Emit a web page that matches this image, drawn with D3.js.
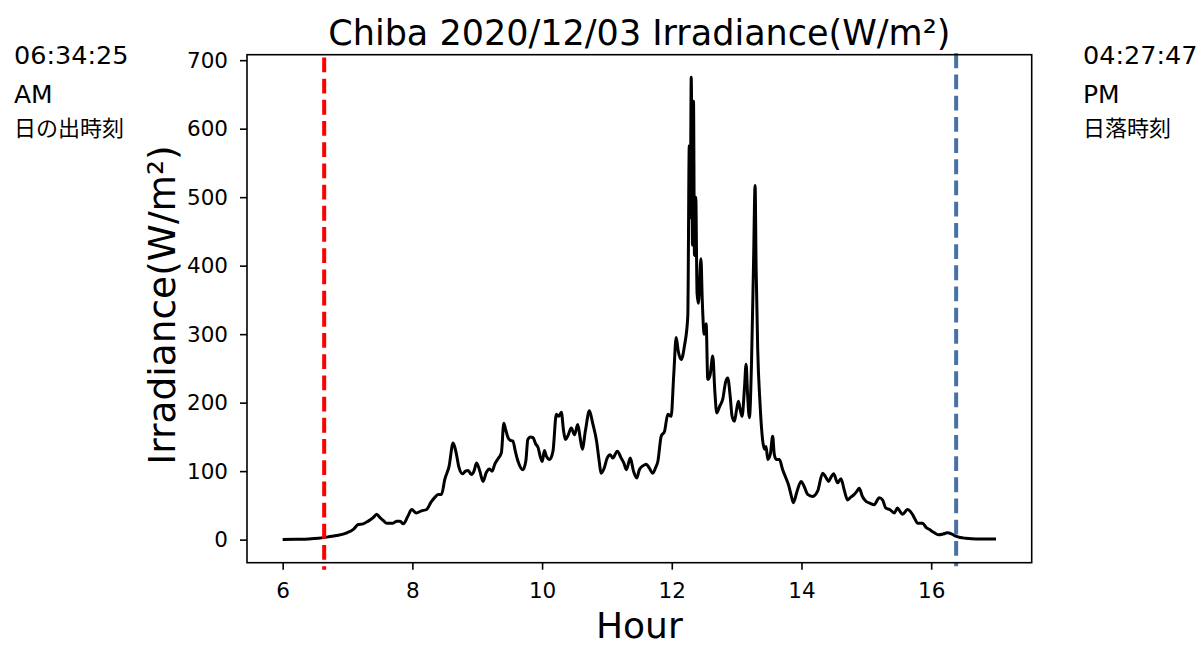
<!DOCTYPE html>
<html>
<head>
<meta charset="utf-8">
<script src="https://cdn.jsdelivr.net/npm/d3@7"></script>
<style>
  html, body { margin: 0; padding: 0; background: #fff; }
  svg { display: block; }
  text { font-family: "DejaVu Sans", sans-serif; }
</style>
</head>
<body>
<svg id="chart" width="1202" height="645"></svg>
<script>
// ---- data ----
const hours = [
  6.00, 6.20, 6.40, 6.55, 6.70, 6.83, 6.99, 7.09, 7.165, 7.24, 7.32, 7.395, 7.45, 7.50, 7.55, 7.60, 7.70, 7.76, 7.81, 7.86, 7.93, 7.99,
  8.06, 8.14, 8.22, 8.29, 8.35, 8.40, 8.45, 8.50, 8.566, 8.628, 8.67, 8.72, 8.77, 8.82, 8.86, 8.91, 8.95, 8.99,
  9.04, 9.09, 9.14, 9.19, 9.23, 9.27, 9.32, 9.373, 9.41, 9.44, 9.475, 9.51, 9.55, 9.59, 9.63, 9.705, 9.75, 9.78, 9.82, 9.86, 9.90, 9.94, 9.97,
  10.004, 10.035, 10.066, 10.117, 10.168, 10.22, 10.26, 10.297, 10.33, 10.36, 10.40, 10.45, 10.50, 10.55, 10.585, 10.62, 10.67, 10.73, 10.78, 10.84, 10.88, 10.91, 10.96,
  11.00, 11.05, 11.09, 11.16, 11.22, 11.26, 11.30, 11.36, 11.41, 11.46, 11.50, 11.56, 11.606, 11.65, 11.708, 11.75, 11.785, 11.837, 11.888, 11.939, 11.99,
  12.03, 12.068, 12.10, 12.145, 12.196, 12.247, 12.27, 12.285, 12.30, 12.32, 12.335, 12.35, 12.37, 12.39, 12.41, 12.45, 12.47, 12.50, 12.53, 12.555, 12.59, 12.632, 12.665, 12.694, 12.74, 12.786, 12.83, 12.863, 12.90, 12.93, 12.966,
  13.00, 13.028, 13.055, 13.084, 13.12, 13.146, 13.17, 13.197, 13.23, 13.26, 13.285, 13.30, 13.325, 13.36, 13.40, 13.43, 13.454, 13.48, 13.52, 13.556, 13.58, 13.61, 13.66, 13.71, 13.76, 13.80, 13.84, 13.875, 13.93, 13.993,
  14.04, 14.095, 14.172, 14.25, 14.326, 14.37, 14.418, 14.46, 14.496, 14.557, 14.609, 14.66, 14.711, 14.76, 14.814, 14.85, 14.89, 14.94, 14.994,
  15.06, 15.12, 15.20, 15.25, 15.30, 15.36, 15.43, 15.48, 15.52, 15.56, 15.635, 15.71, 15.75, 15.79, 15.866, 15.92, 15.97,
  16.05, 16.12, 16.18, 16.25, 16.32, 16.38, 16.45, 16.53, 16.70, 17.00
];
const irradiance = [
  0, 0.5, 1, 2, 4, 6, 10, 15, 22, 23, 27, 32, 37, 32, 28, 24, 24, 27, 27, 23, 34, 44,
  39, 42, 44, 55, 62, 66, 66, 88, 107, 141, 129, 105, 96, 100, 101, 95, 100, 112,
  100, 85, 98, 103, 100, 110, 118, 127, 170, 160, 149, 145, 144, 128, 114, 102, 115, 146, 150, 149, 140, 134, 122,
  114, 130, 122, 117, 129, 183, 180, 186, 160, 146, 152, 163, 153, 168, 150, 132, 160, 188, 170, 144, 115, 97, 105,
  118, 124, 119, 129, 119, 112, 102, 119, 100, 90, 102, 108, 110, 105, 97, 105, 114, 151, 158, 183, 180,
  240, 295, 275, 263, 283, 326, 575, 470, 675, 430, 640, 415, 500, 360, 345, 410, 350, 300, 315, 234, 240, 268, 215, 185, 195, 205, 230, 236, 210, 180, 173,
  190, 202, 190, 180, 220, 256, 210, 178, 260, 400, 517, 400, 278, 200, 146, 132, 136, 117, 125, 151, 125, 117, 117, 102, 90, 80, 65, 54, 70, 85,
  78, 66, 63, 71, 97, 92, 85, 92, 96, 83, 89, 72, 58, 62, 66, 70, 75, 63, 56,
  53, 51, 61, 58, 46, 44, 39, 46, 41, 37, 44, 37, 30, 24, 24, 18, 15,
  10, 7, 8, 10, 8, 5, 3, 2, 1, 1
];
const xTicks = [6, 8, 10, 12, 14, 16];
const yTicks = [0, 100, 200, 300, 400, 500, 600, 700];
const sunriseHour = 6.64;
const sunsetHour = 16.385;
const sunriseLabel = ["06:34:25", "AM", "日の出時刻"];
const sunsetLabel = ["04:27:47", "PM", "日落時刻"];
const titleText = "Chiba 2020/12/03 Irradiance(W/m²)";
const xLabel = "Hour";
const yLabel = "Irradiance(W/m²)";

// ---- layout ----
const svg = d3.select("#chart");
const L = 247, T = 54.7, W = 784.7, H = 508;
const x = d3.scaleLinear().domain([5.45, 17.55]).range([0, W]);
const y = d3.scaleLinear().domain([-33.7, 708]).range([H, 0]);

const g = svg.append("g").attr("transform", `translate(${L},${T})`);

// data line
const pts = hours.map((h, i) => [h, irradiance[i]]);
g.append("path")
  .datum(pts)
  .attr("fill", "none")
  .attr("stroke", "#000")
  .attr("stroke-width", 3)
  .attr("stroke-linejoin", "round")
  .attr("d", d3.line().x(d => x(d[0])).y(d => y(d[1])).curve(d3.curveMonotoneX));

// sunrise / sunset lines
g.append("line")
  .attr("x1", x(sunriseHour)).attr("x2", x(sunriseHour))
  .attr("y1", y(704)).attr("y2", y(-44))
  .attr("stroke", "#ff0000").attr("stroke-width", 4)
  .attr("stroke-dasharray", "14.8,6.4");
g.append("line")
  .attr("x1", x(sunsetHour)).attr("x2", x(sunsetHour))
  .attr("y1", y(710)).attr("y2", y(-39))
  .attr("stroke", "#4673a3").attr("stroke-width", 4)
  .attr("stroke-dasharray", "14.8,6.4");

// frame
g.append("rect").attr("x", 0).attr("y", 0).attr("width", W).attr("height", H)
  .attr("fill", "none").attr("stroke", "#000").attr("stroke-width", 1.6);

// axes
const xAxis = d3.axisBottom(x).tickValues(xTicks).tickSize(7).tickPadding(13).tickFormat(d3.format("d"));
const yAxis = d3.axisLeft(y).tickValues(yTicks).tickSize(7).tickPadding(12).tickFormat(d3.format("d"));
const gx = g.append("g").attr("transform", `translate(0,${H})`).call(xAxis);
const gy = g.append("g").call(yAxis);
[gx, gy].forEach(a => {
  a.select(".domain").remove();
  a.selectAll(".tick line").attr("stroke", "#000").attr("stroke-width", 1.6);
  a.selectAll(".tick text").attr("fill", "#000").style("font-family", "DejaVu Sans").style("font-size", "21.5px");
});
gx.selectAll(".tick text").attr("dy", "0.71em");

// titles
svg.append("text").attr("x", L + W / 2).attr("y", 45).attr("text-anchor", "middle")
  .style("font-size", "35px").text(titleText);
svg.append("text").attr("x", L + W / 2).attr("y", 638).attr("text-anchor", "middle")
  .style("font-size", "36px").text(xLabel);
svg.append("text").attr("transform", `translate(175,305) rotate(-90)`).attr("text-anchor", "middle")
  .style("font-size", "37.5px").text(yLabel);

// side annotations
const fonts = ["DejaVu Sans", "DejaVu Sans", "Noto Sans CJK JP"];
const sizes = [25.5, 25, 22];
const baselines = [64, 103, 135.5];
sunriseLabel.forEach((t, i) => {
  svg.append("text").attr("x", 14).attr("y", baselines[i])
    .style("font-family", fonts[i]).style("font-size", sizes[i] + "px").attr("fill", "#000").text(t);
});
sunsetLabel.forEach((t, i) => {
  svg.append("text").attr("x", 1083).attr("y", baselines[i])
    .style("font-family", fonts[i]).style("font-size", sizes[i] + "px").attr("fill", "#000").text(t);
});
</script>
</body>
</html>
